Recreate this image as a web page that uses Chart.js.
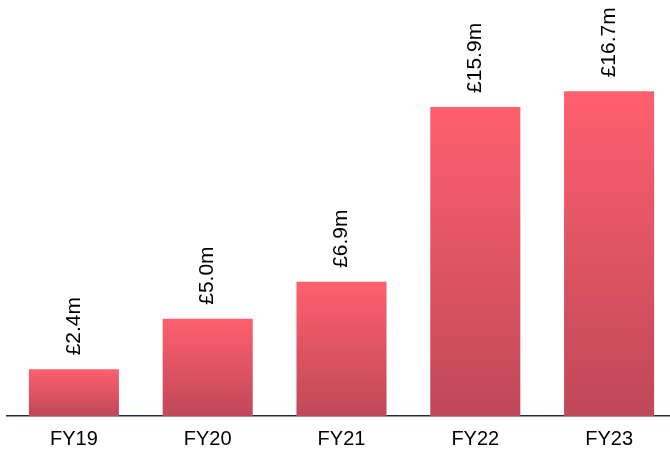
<!DOCTYPE html>
<html>
<head>
<meta charset="utf-8">
<script src="https://cdn.jsdelivr.net/npm/chart.js@4"></script>
<style>
  html, body { margin: 0; padding: 0; background: #fff; overflow: hidden; }
  #wrap { width: 676px; height: 454px; }
</style>
</head>
<body>
<div id="wrap"><canvas id="barChart"></canvas></div>
<script>
// data
var years = ['FY19', 'FY20', 'FY21', 'FY22', 'FY23'];
var revenue = [2.4, 5.0, 6.9, 15.9, 16.7];
var valueLabels = ['£2.4m', '£5.0m', '£6.9m', '£15.9m', '£16.7m'];

// per-bar vertical gradient, from the bar top down to the baseline
function barGradient(context) {
    var chart = context.chart;
    var area = chart.chartArea;
    if (!area || context.dataIndex === undefined) return '#f25c6a';
    var yScale = chart.scales.y;
    var top = yScale.getPixelForValue(revenue[context.dataIndex]);
    var bottom = yScale.getPixelForValue(0);
    var g = chart.ctx.createLinearGradient(0, top, 0, bottom);
    g.addColorStop(0, '#ff5f6e');
    g.addColorStop(1, '#bf4858');
    return g;
}

var topLabels = {
    id: 'topLabels',
    afterDatasetsDraw: function(chart) {
        var ctx = chart.ctx;
        var meta = chart.getDatasetMeta(0);
        ctx.save();
        ctx.fillStyle = '#000';
        ctx.font = '21px "Liberation Sans", Arial, sans-serif';
        ctx.textAlign = 'left';
        ctx.textBaseline = 'middle';
        meta.data.forEach(function(bar, i) {
            ctx.save();
            ctx.translate(bar.x, bar.y - 14);
            ctx.rotate(-Math.PI / 2);
            ctx.fillText(valueLabels[i], 0, 0);
            ctx.restore();
        });
        ctx.restore();
    }
};

var ctx = document.getElementById('barChart').getContext('2d');
var myChart = new Chart(ctx, {
    type: 'bar',
    data: {
        labels: years,
        datasets: [{
            data: revenue,
            backgroundColor: barGradient,
            borderWidth: 0,
            barPercentage: 0.673,
            categoryPercentage: 1
        }]
    },
    options: {
        responsive: true,
        maintainAspectRatio: false,
        animation: false,
        layout: { padding: { left: 7, right: 0, top: 0, bottom: 0 } },
        plugins: {
            legend: { display: false },
            tooltip: { enabled: false }
        },
        scales: {
            x: {
                afterFit: function(scale) { scale.height = 38; },
                grid: { display: false, drawTicks: false },
                border: { display: true, color: '#1f2a4a', width: 1.5 },
                ticks: {
                    color: '#000',
                    padding: 11,
                    font: { family: '"Liberation Sans", Arial, sans-serif', size: 20 }
                }
            },
            y: {
                display: false,
                min: 0,
                max: 21.4
            }
        }
    },
    plugins: [topLabels]
});
</script>
</body>
</html>
